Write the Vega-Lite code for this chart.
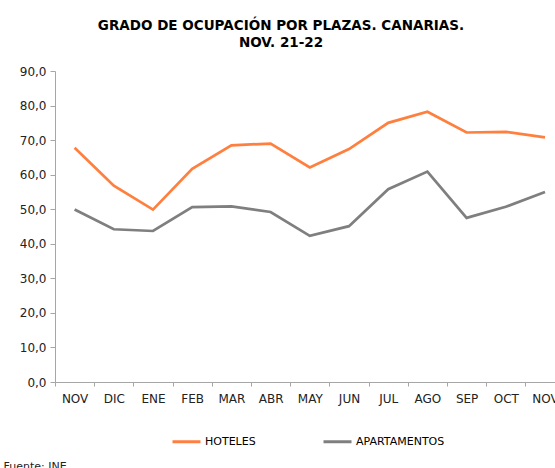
{
  "$schema": "https://vega.github.io/schema/vega-lite/v6.json",
  "autosize": "none",
  "width": 500,
  "height": 311,
  "padding": {"left": 55, "top": 71, "right": 0, "bottom": 86},
  "background": "white",
  "title": {
    "text": ["GRADO DE OCUPACIÓN POR PLAZAS. CANARIAS.", "NOV. 21-22"],
    "font": "DejaVu Sans",
    "fontSize": 13.5,
    "fontWeight": "bold",
    "color": "#000000",
    "anchor": "middle",
    "dx": -24,
    "offset": 16,
    "lineHeight": 17
  },
  "config": {
    "view": {"stroke": null},
    "font": "DejaVu Sans"
  },
  "data": {
    "values": [
      {"mes": "NOV-21", "serie": "HOTELES", "valor": 67.8},
      {"mes": "DIC-21", "serie": "HOTELES", "valor": 56.8},
      {"mes": "ENE-22", "serie": "HOTELES", "valor": 49.9},
      {"mes": "FEB-22", "serie": "HOTELES", "valor": 61.7},
      {"mes": "MAR-22", "serie": "HOTELES", "valor": 68.5},
      {"mes": "ABR-22", "serie": "HOTELES", "valor": 69.0},
      {"mes": "MAY-22", "serie": "HOTELES", "valor": 62.1},
      {"mes": "JUN-22", "serie": "HOTELES", "valor": 67.4},
      {"mes": "JUL-22", "serie": "HOTELES", "valor": 75.0},
      {"mes": "AGO-22", "serie": "HOTELES", "valor": 78.2},
      {"mes": "SEP-22", "serie": "HOTELES", "valor": 72.2},
      {"mes": "OCT-22", "serie": "HOTELES", "valor": 72.4},
      {"mes": "NOV-22", "serie": "HOTELES", "valor": 70.8},
      {"mes": "NOV-21", "serie": "APARTAMENTOS", "valor": 49.9},
      {"mes": "DIC-21", "serie": "APARTAMENTOS", "valor": 44.2},
      {"mes": "ENE-22", "serie": "APARTAMENTOS", "valor": 43.7},
      {"mes": "FEB-22", "serie": "APARTAMENTOS", "valor": 50.6},
      {"mes": "MAR-22", "serie": "APARTAMENTOS", "valor": 50.8},
      {"mes": "ABR-22", "serie": "APARTAMENTOS", "valor": 49.2},
      {"mes": "MAY-22", "serie": "APARTAMENTOS", "valor": 42.3},
      {"mes": "JUN-22", "serie": "APARTAMENTOS", "valor": 45.1},
      {"mes": "JUL-22", "serie": "APARTAMENTOS", "valor": 55.8},
      {"mes": "AGO-22", "serie": "APARTAMENTOS", "valor": 60.9},
      {"mes": "SEP-22", "serie": "APARTAMENTOS", "valor": 47.5},
      {"mes": "OCT-22", "serie": "APARTAMENTOS", "valor": 50.7},
      {"mes": "NOV-22", "serie": "APARTAMENTOS", "valor": 55.0}
    ]
  },
  "mark": {"type": "line", "strokeWidth": 2.7, "clip": false},
  "encoding": {
    "x": {
      "field": "mes",
      "type": "ordinal",
      "sort": null,
      "scale": {"type": "band", "paddingInner": 0, "paddingOuter": 0, "range": [0, 509.6]},
      "axis": {
        "title": "Fuente: INE",
        "titleFont": "DejaVu Sans",
        "titleFontSize": 11,
        "titleFontWeight": "normal",
        "titleColor": "#222222",
        "titleX": -52,
        "titleY": 87,
        "titleAlign": "left",
        "titleBaseline": "alphabetic",
        "labelExpr": "split(datum.label, '-')[0]",
        "labelAngle": 0,
        "labelFontSize": 12,
        "labelColor": "#222222",
        "labelPadding": 7,
        "tickBand": "extent",
        "tickSize": 4,
        "tickColor": "#A6A6A6",
        "domainColor": "#A6A6A6",
        "domainWidth": 1,
        "grid": false
      }
    },
    "y": {
      "field": "valor",
      "type": "quantitative",
      "scale": {"domain": [0, 90], "nice": false, "zero": true},
      "axis": {
        "title": null,
        "values": [0, 10, 20, 30, 40, 50, 60, 70, 80, 90],
        "labelExpr": "replace(format(datum.value, '.1f'), '.', ',')",
        "labelFontSize": 12,
        "labelColor": "#222222",
        "labelPadding": 4,
        "tickSize": 5,
        "tickColor": "#A6A6A6",
        "domainColor": "#A6A6A6",
        "grid": false
      }
    },
    "color": {
      "field": "serie",
      "type": "nominal",
      "scale": {"domain": ["HOTELES", "APARTAMENTOS"], "range": ["#FF7F3F", "#7F7F7F"]},
      "legend": {
        "title": null,
        "orient": "none",
        "legendX": 116,
        "legendY": 355,
        "direction": "horizontal",
        "symbolType": "stroke",
        "symbolSize": 784,
        "symbolStrokeWidth": 3,
        "labelFontSize": 11,
        "labelColor": "#000000",
        "labelOffset": 3,
        "columnPadding": 61
      }
    }
  }
}
